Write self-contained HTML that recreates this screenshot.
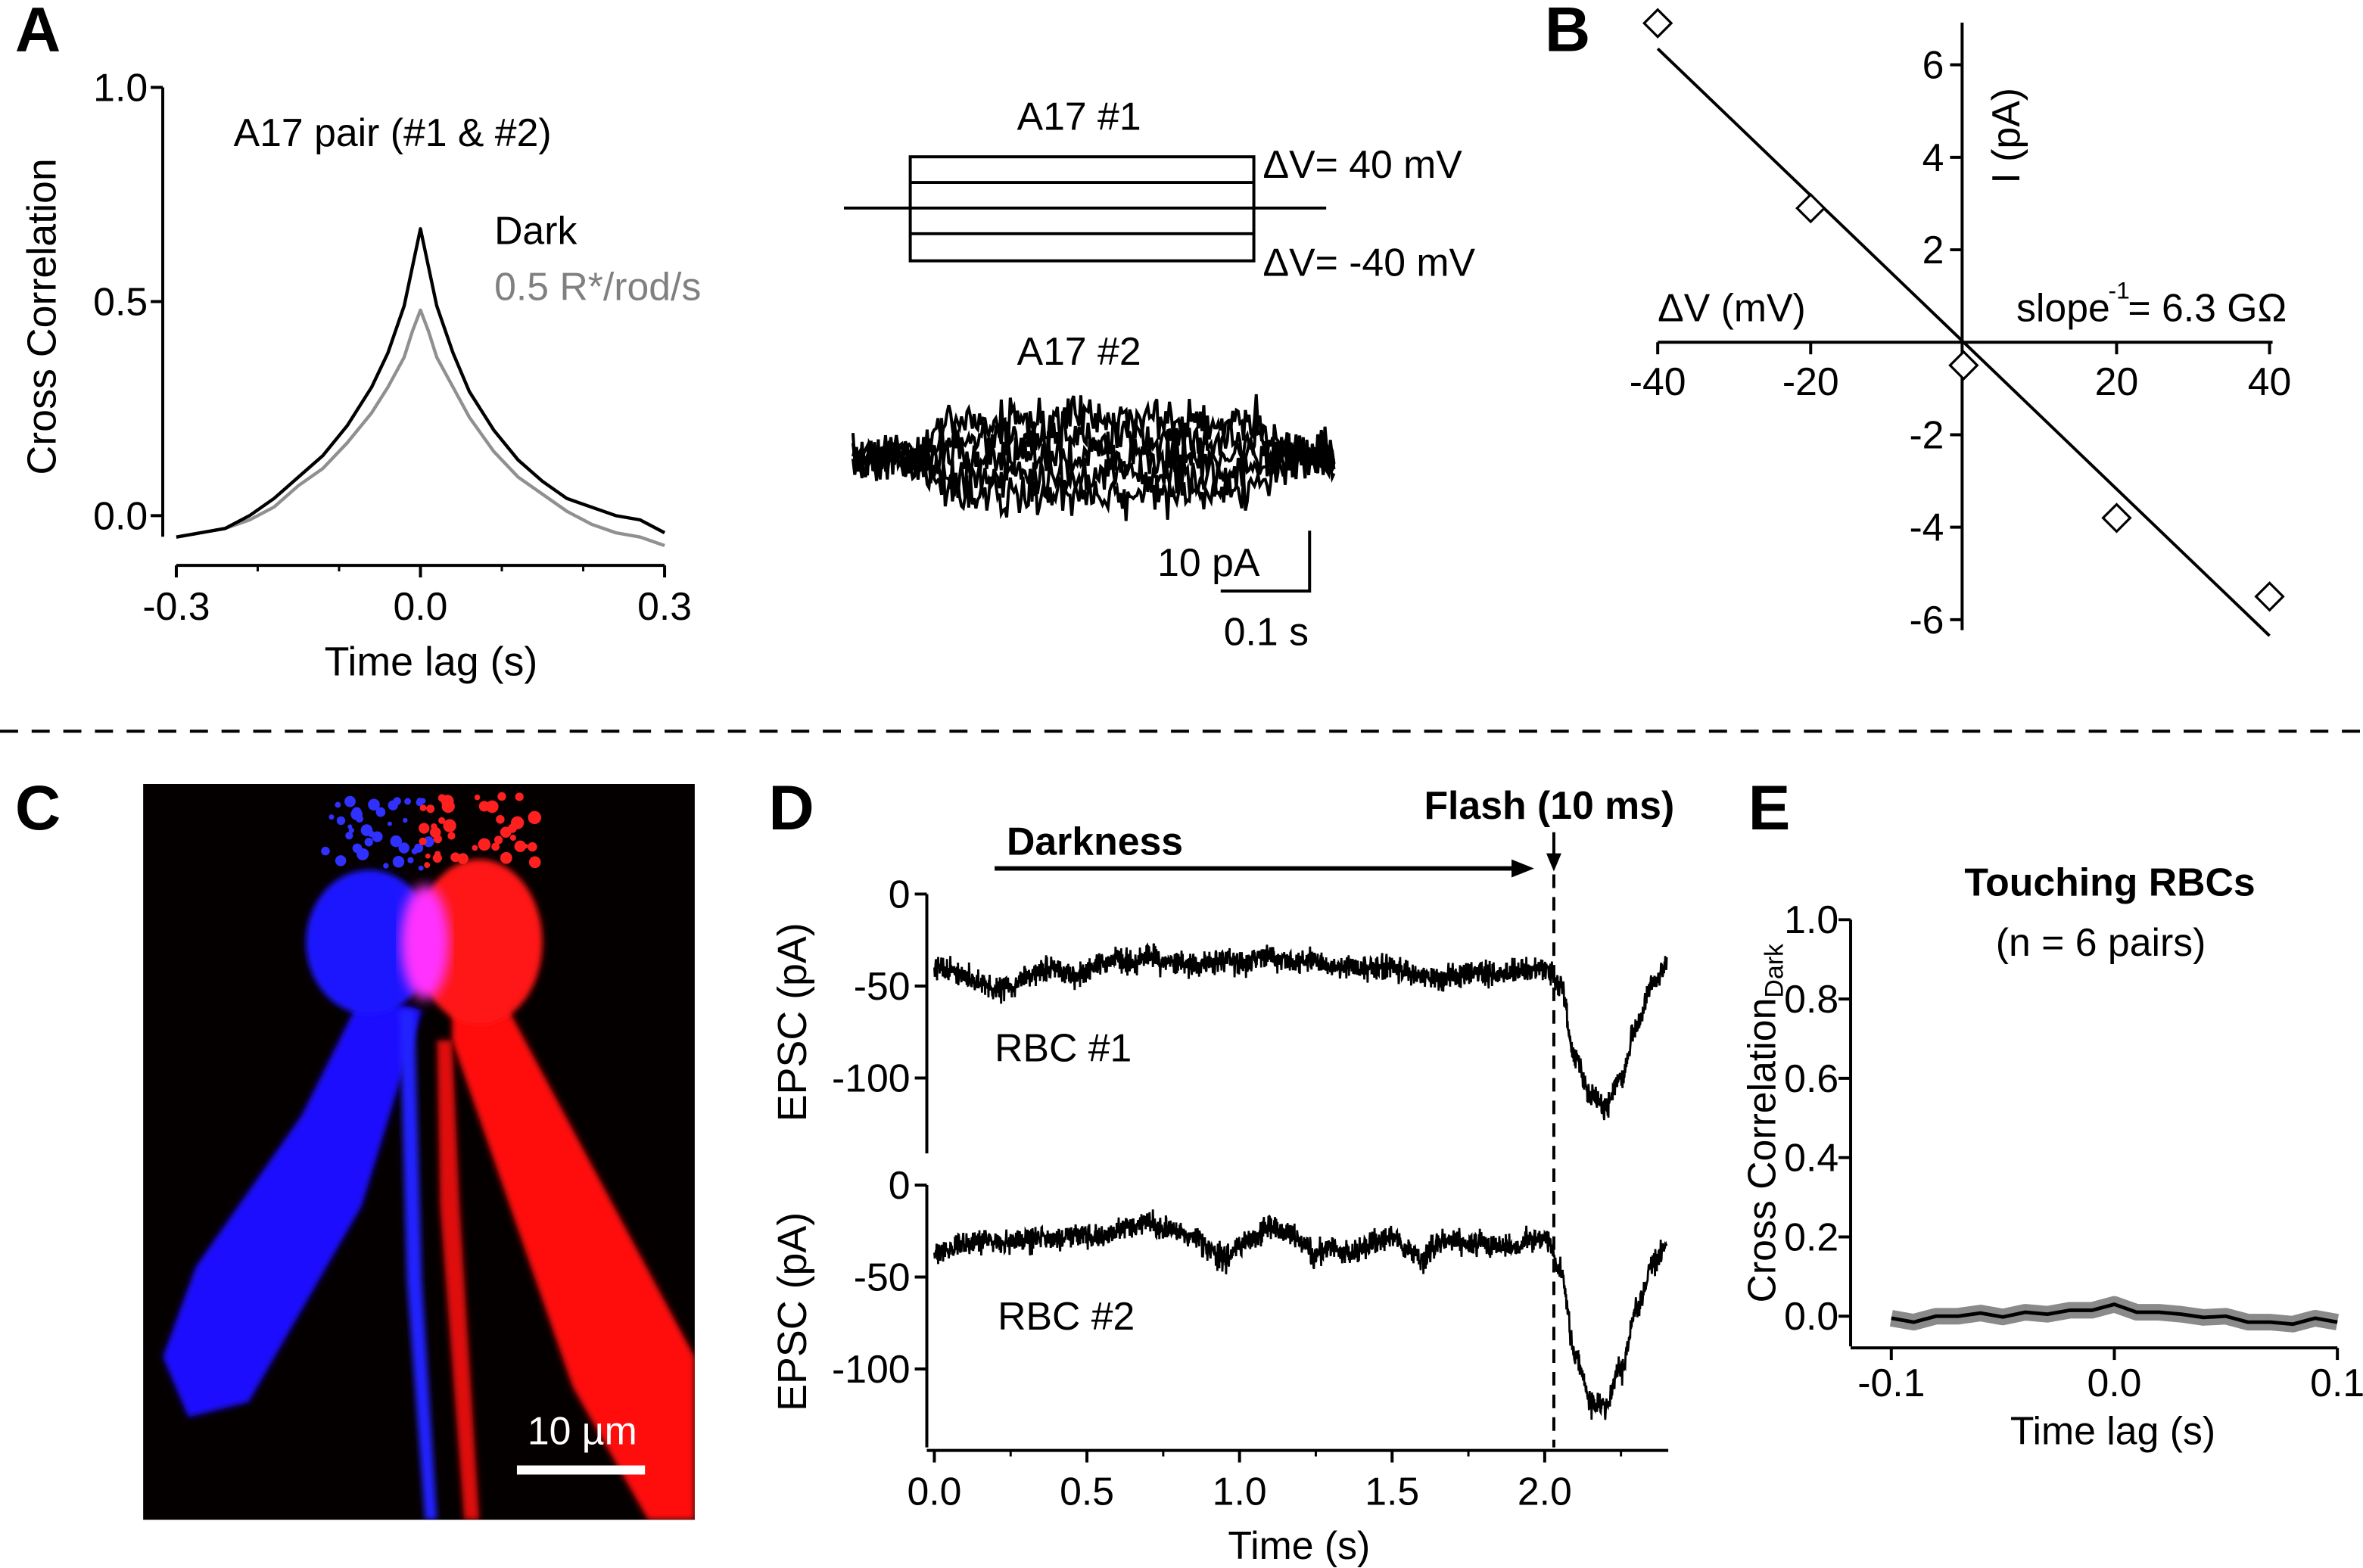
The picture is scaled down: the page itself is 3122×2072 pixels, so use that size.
<!DOCTYPE html>
<html><head><meta charset="utf-8">
<style>
html,body{margin:0;padding:0;background:#fff;}
svg{display:block;font-family:"Liberation Sans",Arial,sans-serif;}
</style></head>
<body>
<svg id="fig" width="3122" height="2072" viewBox="0 0 1568 1040" preserveAspectRatio="none" xmlns="http://www.w3.org/2000/svg">
<defs>
<filter id="blur4"><feGaussianBlur stdDeviation="4"/></filter>
<filter id="blur2"><feGaussianBlur stdDeviation="2"/></filter>
</defs>
<rect width="1568" height="1040" fill="#fff"/>
<g id="root"></g>
</svg>
<script>
// ===== Panel A cross-correlation data =====
const aLags = [-0.3,-0.27,-0.24,-0.21,-0.18,-0.15,-0.12,-0.09,-0.06,-0.04,-0.02,-0.01,0,0.01,0.02,0.04,0.06,0.09,0.12,0.15,0.18,0.21,0.24,0.27,0.3];
const aDark = [-0.05,-0.04,-0.03,0.0,0.04,0.09,0.14,0.21,0.3,0.38,0.49,0.58,0.67,0.58,0.49,0.38,0.29,0.2,0.13,0.08,0.04,0.02,0.0,-0.01,-0.04];
const aLight = [-0.05,-0.04,-0.03,-0.01,0.02,0.07,0.11,0.17,0.24,0.3,0.37,0.43,0.48,0.43,0.37,0.3,0.23,0.15,0.09,0.05,0.01,-0.02,-0.04,-0.05,-0.07];
const aXTicks = [-0.3,0.0,0.3];
const aXTickLabels = ["-0.3","0.0","0.3"];
const aYTicks = [0,0.5,1.0];
const aYTickLabels = ["0.0","0.5","1.0"];
// A17 #2 current step levels (pA)
const a17Levels = [6.5,3.2,0,-3.2,-6.5];
// ===== Panel B I-V data =====
const bV = [-40,-20,0,20,40];
const bI = [6.9,2.9,-0.5,-3.8,-5.5];
const bFitV = [-40,40];
const bFitI = [6.35,-6.35];
const bXTicks = [-40,-20,20,40];
const bXTickLabels = ["-40","-20","20","40"];
const bYTicks = [6,4,2,-2,-4,-6];
const bYTickLabels = ["6","4","2","-2","-4","-6"];
// ===== Panel D EPSC data (t step 0.05 s) =====
const dTimes = Array.from({length:49},(_, i)=>+(i*0.05).toFixed(2));
const dRbc1 = [-40,-42,-45,-48,-52,-50,-45,-42,-40,-45,-42,-38,-35,-37,-33,-38,-36,-40,-36,-37,-38,-36,-34,-36,-38,-36,-40,-38,-40,-39,-40,-42,-44,-46,-45,-44,-43,-44,-42,-41,-40,-50,-88,-110,-115,-100,-72,-50,-40];
const dRbc2 = [-38,-35,-32,-30,-30,-32,-30,-28,-30,-27,-28,-29,-25,-22,-20,-24,-26,-28,-35,-40,-33,-28,-22,-25,-30,-38,-33,-38,-35,-30,-28,-36,-40,-30,-30,-33,-32,-33,-35,-30,-28,-45,-92,-118,-120,-100,-68,-45,-33];
const dXTicks = [0,0.5,1.0,1.5,2.0];
const dXTickLabels = ["0.0","0.5","1.0","1.5","2.0"];
const dYTicks = [0,-50,-100];
const dYTickLabels = ["0","-50","-100"];
const flashTime = 2.03;
// ===== Panel E =====
const eLags = [-0.1,-0.09,-0.08,-0.07,-0.06,-0.05,-0.04,-0.03,-0.02,-0.01,0,0.01,0.02,0.03,0.04,0.05,0.06,0.07,0.08,0.09,0.1];
const eCorr = [-0.005,-0.015,0,0,0.008,-0.002,0.01,0.005,0.015,0.015,0.03,0.01,0.01,0.005,-0.003,0,-0.015,-0.015,-0.02,-0.005,-0.015];
const eXTicks = [-0.1,0,0.1];
const eXTickLabels = ["-0.1","0.0","0.1"];
const eYTicks = [0,0.2,0.4,0.6,0.8,1.0];
const eYTickLabels = ["0.0","0.2","0.4","0.6","0.8","1.0"];

const NS="http://www.w3.org/2000/svg";
const root=document.getElementById('root');
function mk(tag,attrs,parent){const e=document.createElementNS(NS,tag);for(const k in attrs)e.setAttribute(k,attrs[k]);(parent||root).appendChild(e);return e;}
function txt(s,x,y,size,opts,parent){opts=opts||{};const t=mk('text',{x:x,y:y,'font-size':size,'text-anchor':opts.anchor||'start',fill:opts.fill||'#000','font-weight':opts.weight||'normal'},parent);if(opts.rot)t.setAttribute('transform','rotate(-90 '+x+' '+y+')');t.textContent=s;return t;}
function lin(d0,d1,r0,r1){return v=>r0+(v-d0)*(r1-r0)/(d1-d0);}
let seed=12345;function rnd(){seed=(seed*1103515245+12345)%2147483648;return seed/2147483648;}
function noise(){return (rnd()+rnd()+rnd()-1.5);}

// Panel labels
[['A',10,34],['B',1025,34],['C',10,550],['D',510,550],['E',1160,550]].forEach(p=>{const t=txt(p[0],p[1],p[2],42,{weight:'bold'});

});

// ---------- Panel A ----------
{
const g=mk('g',{});


const x=lin(-0.3,0.3,117,441), y=lin(0,1,342,58);
mk('line',{x1:108,y1:58,x2:108,y2:356,stroke:'#000','stroke-width':2},g);
mk('line',{x1:117,y1:375,x2:441,y2:375,stroke:'#000','stroke-width':2},g);
aYTicks.forEach((v,i)=>{mk('line',{x1:100,y1:y(v),x2:108,y2:y(v),stroke:'#000','stroke-width':2},g);txt(aYTickLabels[i],98,y(v)+9,26,{anchor:'end'},g);});
aXTicks.forEach((v,i)=>{mk('line',{x1:x(v),y1:375,x2:x(v),y2:383,stroke:'#000','stroke-width':2},g);txt(aXTickLabels[i],x(v),411,26,{anchor:'middle'},g);});
[-0.2,-0.1,0.1,0.2].forEach(v=>mk('line',{x1:x(v),y1:375,x2:x(v),y2:379,stroke:'#000','stroke-width':1.5},g));
const yl=txt('Cross Correlation',37,210,27,{anchor:'middle',rot:true},g);

txt('Time lag (s)',286,448,27,{anchor:'middle'},g);
txt('A17 pair (#1 & #2)',155,97,26,{},g);
txt('Dark',328,162,26,{},g);
txt('0.5 R*/rod/s',328,199,26,{fill:'#808080'},g);
const pl=mk('polyline',{points:aLight.map((v,i)=>x(aLags[i])+','+y(v)).join(' '),fill:'none',stroke:'#909090','stroke-width':2.2,'stroke-linejoin':'round'},g);

const pd=mk('polyline',{points:aDark.map((v,i)=>x(aLags[i])+','+y(v)).join(' '),fill:'none',stroke:'#000','stroke-width':2.2,'stroke-linejoin':'round'},g);

// voltage steps
const vs=mk('g',{},g);

mk('line',{x1:560,y1:138,x2:880,y2:138,stroke:'#000','stroke-width':2},vs);
mk('rect',{x:604,y:104,width:228,height:69,fill:'none',stroke:'#000','stroke-width':2},vs);
[121,155].forEach(yy=>mk('line',{x1:604,y1:yy,x2:832,y2:yy,stroke:'#000','stroke-width':2},vs));
txt('A17 #1',716,86,26,{anchor:'middle'},g);
txt('ΔV= 40 mV',838,118,26,{},g);
txt('ΔV= -40 mV',838,183,26,{},g);
txt('A17 #2',716,242,26,{anchor:'middle'},g);
// current traces
const cy=303, sc=3.8;
a17Levels.forEach((lv,k)=>{let pts=[];for(let px=566;px<=886;px+=1.2){let env=0;if(px>=612&&px<=836)env=1-Math.exp(-(px-612)/8);else if(px>836)env=Math.exp(-(px-836)/8);pts.push(px.toFixed(1)+','+(cy-lv*sc*env+noise()*14).toFixed(1));}
const p=mk('polyline',{points:pts.join(' '),fill:'none',stroke:'#000','stroke-width':2},g);
});
mk('polyline',{points:'869,352 869,392 810,392',fill:'none',stroke:'#000','stroke-width':2},g);
txt('10 pA',768,382,26,{},g);
txt('0.1 s',812,428,26,{},g);
}

// ---------- Panel B ----------
{
const g=mk('g',{});


const x=lin(-40,40,1100,1506), y=lin(0,6,227,43);
mk('line',{x1:1100,y1:227,x2:1508,y2:227,stroke:'#000','stroke-width':2},g);
mk('line',{x1:1302,y1:15,x2:1302,y2:418,stroke:'#000','stroke-width':2},g);
bXTicks.forEach((v,i)=>{mk('line',{x1:x(v),y1:227,x2:x(v),y2:235,stroke:'#000','stroke-width':2},g);txt(bXTickLabels[i],x(v),262,26,{anchor:'middle'},g);});
bYTicks.forEach((v,i)=>{mk('line',{x1:1294,y1:y(v),x2:1302,y2:y(v),stroke:'#000','stroke-width':2},g);txt(bYTickLabels[i],1290,y(v)+9,26,{anchor:'end'},g);});
txt('ΔV (mV)',1100,213,26,{},g);
txt('I (pA)',1340,90,26,{anchor:'middle',rot:true},g);
txt('slope',1338,213,26,{},g);
txt('-1',1399,198,16,{},g);
txt('= 6.3 GΩ',1412,213,26,{},g);
const fl=mk('line',{x1:x(bFitV[0]),y1:y(bFitI[0]),x2:x(bFitV[1]),y2:y(bFitI[1]),stroke:'#000','stroke-width':2},g);

bV.forEach((v,i)=>{const cx=x(v),cyy=y(bI[i]);const d=mk('polygon',{points:`${cx},${cyy-9} ${cx+9},${cyy} ${cx},${cyy+9} ${cx-9},${cyy}`,fill:'#fff',stroke:'#000','stroke-width':1.6},g);
});
}

// divider
{const l=mk('line',{x1:0,y1:485,x2:1568,y2:485,stroke:'#000','stroke-width':2,'stroke-dasharray':'12,9'});

}

// ---------- Panel C (micrograph) ----------
{
const g=mk('g',{});


mk('rect',{x:95,y:520,width:366,height:488,fill:'#050000'},g);
const cp=mk('clipPath',{id:'cclip'},g);mk('rect',{x:95,y:520,width:366,height:488},cp);
const cl=mk('g',{},g);
cl.setAttribute('clip-path','url(#cclip)');
// red cell
mk('polygon',{points:'300,660 335,665 461,900 461,1008 430,1008 380,920 300,690',fill:'#ff1010',filter:'url(#blur2)'},cl);
mk('ellipse',{cx:318,cy:625,rx:42,ry:55,fill:'#ff1515',filter:'url(#blur2)'},cl);
mk('polygon',{points:'290,690 300,690 305,800 318,1008 308,1008 292,800',fill:'#e01010',filter:'url(#blur2)'},cl);
// blue cell
mk('polygon',{points:'240,660 280,670 240,800 165,930 125,940 108,900 130,840 200,740',fill:'#1a10ff',filter:'url(#blur2)'},cl);
mk('ellipse',{cx:245,cy:625,rx:42,ry:48,fill:'#1d18ff',filter:'url(#blur2)'},cl);
mk('polygon',{points:'265,670 275,670 280,850 290,1008 282,1008 270,850',fill:'#2020ff',filter:'url(#blur2)'},cl);
mk('ellipse',{cx:282,cy:625,rx:16,ry:38,fill:'#ff30ff',filter:'url(#blur4)'},cl);
// dendritic tuft speckles
for(let i=0;i<40;i++){const bx=215+rnd()*70, by=530+rnd()*50;mk('circle',{cx:bx,cy:by,r:1.5+rnd()*2.5,fill:'#3030ff'},cl);}
for(let i=0;i<40;i++){const bx=280+rnd()*75, by=525+rnd()*50;mk('circle',{cx:bx,cy:by,r:1.5+rnd()*3,fill:'#ff2020'},cl);}
mk('line',{x1:343,y1:975,x2:428,y2:975,stroke:'#fff','stroke-width':6},g);
txt('10 µm',350,958,26,{fill:'#fff'},g);
}

// ---------- Panel D ----------
{
const g=mk('g',{});


const x=lin(0,2,620,1025);
const y1=lin(0,-100,593,715), y2=lin(0,-100,786,908);
mk('line',{x1:615,y1:593,x2:615,y2:765,stroke:'#000','stroke-width':2},g);
mk('line',{x1:615,y1:786,x2:615,y2:960,stroke:'#000','stroke-width':2},g);
mk('line',{x1:615,y1:962,x2:1107,y2:962,stroke:'#000','stroke-width':2},g);
dYTicks.forEach((v,i)=>{[y1,y2].forEach(yf=>{mk('line',{x1:607,y1:yf(v),x2:615,y2:yf(v),stroke:'#000','stroke-width':2},g);txt(dYTickLabels[i],604,yf(v)+9,26,{anchor:'end'},g);});});
dXTicks.forEach((v,i)=>{mk('line',{x1:x(v),y1:962,x2:x(v),y2:970,stroke:'#000','stroke-width':2},g);txt(dXTickLabels[i],x(v),998,26,{anchor:'middle'},g);});
[0.25,0.75,1.25,1.75,2.25].forEach(v=>mk('line',{x1:x(v),y1:962,x2:x(v),y2:966,stroke:'#000','stroke-width':1.5},g));
txt('EPSC (pA)',535,678,27,{anchor:'middle',rot:true},g);
txt('EPSC (pA)',535,870,27,{anchor:'middle',rot:true},g);
txt('Time (s)',862,1034,26,{anchor:'middle'},g);
txt('RBC #1',660,704,26,{},g);
txt('RBC #2',662,882,26,{},g);
txt('Darkness',668,567,26,{weight:'bold'},g);
mk('line',{x1:660,y1:576,x2:1005,y2:576,stroke:'#000','stroke-width':3},g);
mk('polygon',{points:'1003,570 1018,576 1003,582',fill:'#000'},g);
txt('Flash (10 ms)',1028,543,26,{anchor:'middle',weight:'bold'},g);
mk('line',{x1:x(flashTime),y1:552,x2:x(flashTime),y2:570,stroke:'#000','stroke-width':2},g);
mk('polygon',{points:`${x(flashTime)-5},566 ${x(flashTime)+5},566 ${x(flashTime)},578`,fill:'#000'},g);
const fl=mk('line',{x1:x(flashTime),y1:580,x2:x(flashTime),y2:960,stroke:'#000','stroke-width':2,'stroke-dasharray':'9,6'},g);

function trace(arr,yf,name){let pts=[];const N=(arr.length-1)*40;for(let j=0;j<=N;j++){const t=j/40*0.05;const k=Math.min(Math.floor(j/40),arr.length-2);const f=(j/40)-k;const w=(1-Math.cos(f*Math.PI))/2;const v=arr[k]*(1-w)+arr[k+1]*w;pts.push(x(t).toFixed(1)+','+(yf(v)+noise()*8).toFixed(1));}
const p=mk('polyline',{points:pts.join(' '),fill:'none',stroke:'#000','stroke-width':1.4},g);
}
trace(dRbc1,y1,'rbc1-epsc-trace');
trace(dRbc2,y2,'rbc2-epsc-trace');
}

// ---------- Panel E ----------
{
const g=mk('g',{});


const x=lin(-0.1,0.1,1255,1551), y=lin(0,1,873,610);
mk('line',{x1:1228,y1:610,x2:1228,y2:893,stroke:'#000','stroke-width':2},g);
mk('line',{x1:1228,y1:894,x2:1551,y2:894,stroke:'#000','stroke-width':2},g);
eYTicks.forEach((v,i)=>{mk('line',{x1:1220,y1:y(v),x2:1228,y2:y(v),stroke:'#000','stroke-width':2},g);txt(eYTickLabels[i],1220,y(v)+9,26,{anchor:'end'},g);});
eXTicks.forEach((v,i)=>{mk('line',{x1:x(v),y1:894,x2:x(v),y2:902,stroke:'#000','stroke-width':2},g);txt(eXTickLabels[i],x(v),926,26,{anchor:'middle'},g);});
txt('Touching RBCs',1400,594,26,{anchor:'middle',weight:'bold'},g);
txt('(n = 6 pairs)',1394,634,26,{anchor:'middle'},g);
const t=mk('text',{x:1178,y:745,'font-size':26,'text-anchor':'middle',transform:'rotate(-90 1178 745)'},g);


const t1=mk('tspan',{},t);t1.textContent='Cross Correlation';
const ts=mk('tspan',{'font-size':17,dy:5},t);ts.textContent='Dark';
txt('Time lag (s)',1402,958,26,{anchor:'middle'},g);
const pts=eCorr.map((v,i)=>x(eLags[i])+','+y(v)).join(' ');
const band=mk('polyline',{points:pts,fill:'none',stroke:'#8a8a8a','stroke-width':11,'stroke-linejoin':'round'},g);

const ln=mk('polyline',{points:pts,fill:'none',stroke:'#000','stroke-width':2.4,'stroke-linejoin':'round'},g);

}
</script>
</body></html>
